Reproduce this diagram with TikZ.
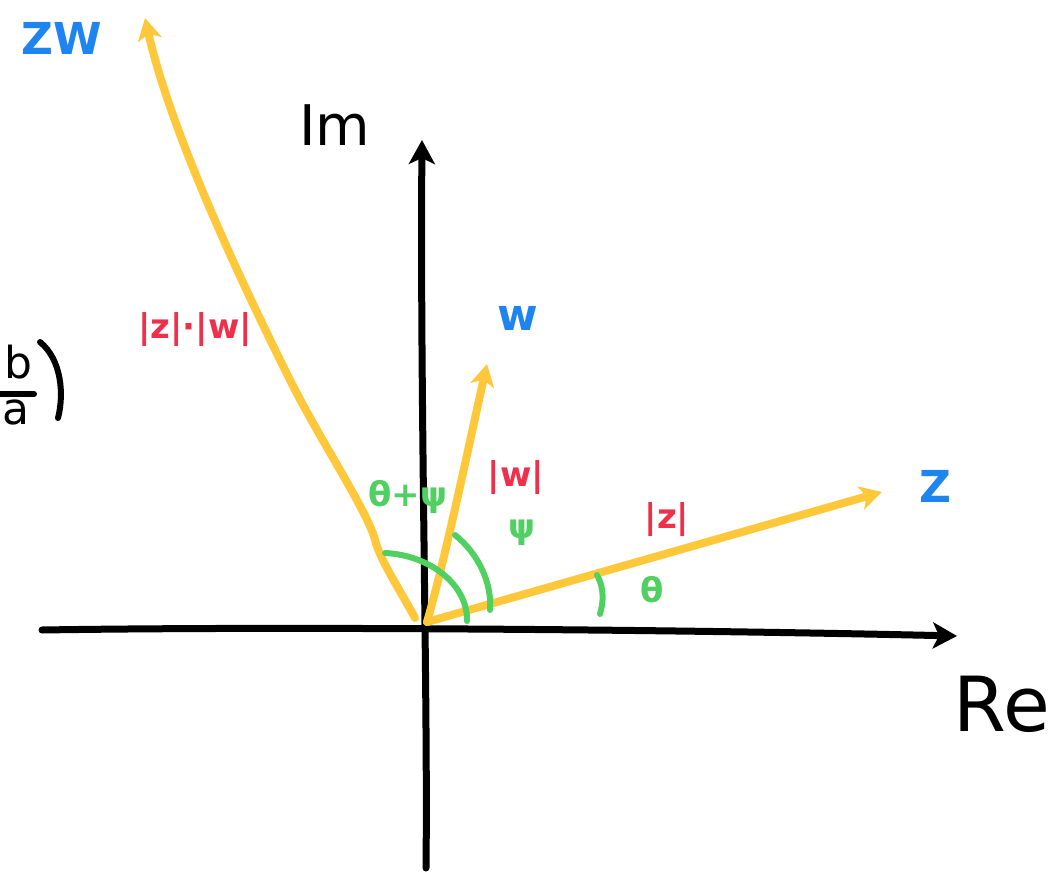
\documentclass[tikz,border=0pt]{standalone}
\usepackage{fontspec}
\setmainfont{DejaVu Sans}
\usetikzlibrary{arrows.meta}
\definecolor{vecyellow}{HTML}{FFC83A}
\definecolor{lblblue}{HTML}{1E84F0}
\definecolor{lblred}{HTML}{F0304A}
\definecolor{anggreen}{HTML}{50D060}
\tikzset{
  axisline/.style={line width=7pt, black, line cap=round, -{Stealth[length=24pt,width=26pt,inset=6pt]}},
  vecline/.style={line width=8pt, vecyellow, line cap=round, line join=round, -{Stealth[length=22pt,width=24pt,inset=6pt]}},
  angarc/.style={line width=6pt, anggreen, line cap=round},
  bluelbl/.style={text=lblblue, font=\bfseries\fontsize{44}{44}\selectfont},
  redlbl/.style={text=lblred, font=\bfseries\fontsize{34}{34}\selectfont},
  greenlbl/.style={text=anggreen, font=\bfseries\fontsize{34}{34}\selectfont},
  blacklbl/.style={text=black}
}
\begin{document}
\begin{tikzpicture}[x=1pt,y=-1pt]
\useasboundingbox (0,0) rectangle (1058,875);
% origin and endpoints
\coordinate (O) at (427,622);
\coordinate (zwStart) at (415,618);
\coordinate (reL) at (42,630);
\coordinate (reR) at (957,636);
\coordinate (imB) at (426,868);
\coordinate (imT) at (422,140);
\coordinate (zEnd) at (882,492);
\coordinate (wEnd) at (487,364);
\coordinate (zwEnd) at (145,18);
% axes
\draw[axisline] (reL) .. controls (300,626) and (700,630) .. (reR);
\draw[axisline] (imB) .. controls (428,700) and (420,400) .. (imT);
% vectors
\draw[vecline] (O) -- (zEnd);
\draw[vecline] (O) .. controls (445,560) and (470,440) .. (wEnd);
\draw[vecline] (zwStart) .. controls (400,590) and (380,560) .. (375,540)
  .. controls (368,512) and (320,440) .. (290,380)
  .. controls (240,280) and (170,130) .. (zwEnd);
% angle arcs
\draw[angarc] (597,575) .. controls (605,590) and (603,603) .. (600,614);
\draw[angarc] (455,535) .. controls (480,555) and (492,585) .. (490,610);
\draw[angarc] (385,553) .. controls (430,555) and (468,585) .. (467,621);
% labels
\node[bluelbl] (zwlbl) at (62,38) {ZW};
\node[bluelbl] (zlbl) at (935,486) {Z};
\node[bluelbl] (wlbl) at (518,318) {w};
\node[redlbl] (zwabs) at (195,330) {|z|·|w|};
\node[redlbl] (wabs) at (516,478) {|w|};
\node[redlbl] (zabs) at (667,520) {|z|};
\node[greenlbl] (th) at (652,590) {θ};
\node[greenlbl] (ps) at (522,533) {ψ};
\node[greenlbl] (thps) at (408,497) {θ+ψ};
\node[blacklbl, font=\fontsize{76}{76}\selectfont] (relbl) at (1002,704) {Re};
\node[blacklbl, font=\fontsize{56}{56}\selectfont] (imlbl) at (335,125) {Im};
% partial fraction at left edge
\node[blacklbl, font=\fontsize{44}{44}\selectfont] (bch) at (18,362) {b};
\node[blacklbl, font=\fontsize{44}{44}\selectfont] (ach) at (16,412) {a};
\draw[line width=6pt, line cap=round] (0,394) -- (34,394);
\draw[line width=6pt, line cap=round] (40,342) .. controls (62,360) and (64,395) .. (58,418);
\end{tikzpicture}
\end{document}
